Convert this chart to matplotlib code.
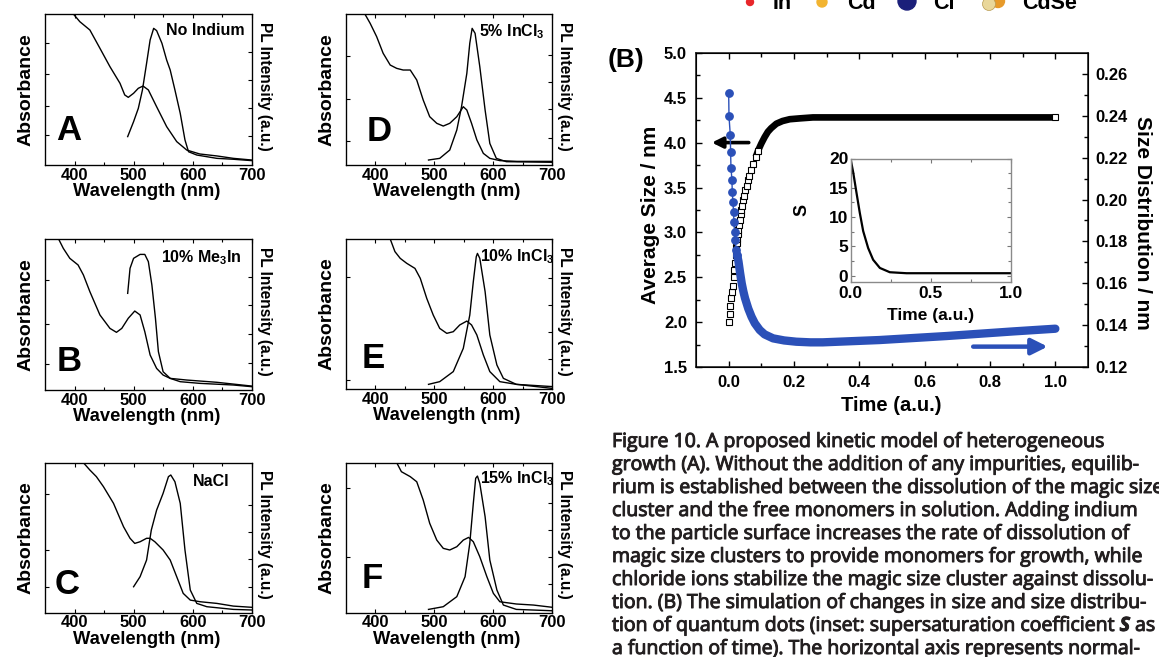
import matplotlib
matplotlib.use('Agg')
import matplotlib.pyplot as plt
import matplotlib.patheffects as pe
from matplotlib.patches import Circle

plt.rcParams['font.family'] = ['Liberation Sans', 'DejaVu Sans']
plt.rcParams['font.weight'] = 'bold'
plt.rcParams['mathtext.fontset'] = 'custom'
plt.rcParams['mathtext.rm'] = 'Liberation Sans:bold'
plt.rcParams['mathtext.it'] = 'Open Sans:italic'

W, H = 1159, 657

# ---------------- spectra, panels A-F (wavelength in nm, normalised height) ----------------
wl_ticks = [400, 500, 600, 700]

abs_a_nm = [398, 409, 426, 443, 460, 477, 485, 491, 500, 508, 516, 525, 539, 556, 573, 590, 612, 641, 669, 700]
abs_a = [1.0, 0.949, 0.894, 0.773, 0.651, 0.541, 0.464, 0.448, 0.475, 0.508, 0.523, 0.497, 0.386, 0.254,
         0.155, 0.099, 0.073, 0.060, 0.044, 0.033]
pl_a_nm = [490, 500, 508, 515, 522, 528, 534, 539, 548, 556, 562, 570, 579, 587, 593, 607, 641, 669, 700]
pl_a = [0.188, 0.287, 0.375, 0.497, 0.673, 0.828, 0.905, 0.890, 0.806, 0.695, 0.629, 0.497, 0.342, 0.166,
        0.088, 0.066, 0.044, 0.038, 0.029]

abs_b_nm = [373, 381, 392, 406, 415, 426, 443, 460, 471, 480, 491, 502, 511, 519, 528, 539, 550, 562, 590, 641, 700]
abs_b = [1.0, 0.938, 0.872, 0.828, 0.762, 0.651, 0.497, 0.408, 0.382, 0.408, 0.475, 0.523, 0.497, 0.386,
         0.232, 0.143, 0.099, 0.077, 0.066, 0.051, 0.026]
pl_b_nm = [490, 494, 500, 511, 519, 525, 531, 537, 542, 550, 562, 579, 612, 669, 700]
pl_b = [0.640, 0.806, 0.872, 0.898, 0.898, 0.850, 0.695, 0.475, 0.254, 0.121, 0.077, 0.055, 0.044, 0.033, 0.022]

abs_c_nm = [415, 426, 437, 449, 466, 483, 494, 502, 511, 522, 528, 536, 550, 562, 573, 584, 596, 613, 641, 669, 700]
abs_c = [1.0, 0.951, 0.907, 0.840, 0.729, 0.573, 0.496, 0.462, 0.473, 0.496, 0.496, 0.473, 0.418, 0.351,
         0.240, 0.129, 0.084, 0.073, 0.062, 0.044, 0.036]
pl_c_nm = [500, 511, 522, 530, 539, 550, 559, 563, 570, 579, 587, 596, 607, 624, 669, 700]
pl_c = [0.173, 0.240, 0.351, 0.551, 0.684, 0.796, 0.907, 0.918, 0.873, 0.729, 0.418, 0.151, 0.062, 0.040,
        0.022, 0.018]

abs_d_nm = [382, 391, 402, 413, 425, 436, 447, 459, 470, 481, 492, 504, 515, 526, 538, 549, 555, 563, 572,
            583, 594, 611, 640, 700]
abs_d = [1.0, 0.938, 0.850, 0.740, 0.662, 0.640, 0.629, 0.629, 0.563, 0.430, 0.320, 0.276, 0.258, 0.276,
         0.320, 0.386, 0.364, 0.276, 0.166, 0.077, 0.044, 0.029, 0.024, 0.024]
pl_d_nm = [490, 509, 526, 538, 546, 555, 560, 564, 569, 577, 586, 594, 605, 622, 700]
pl_d = [0.033, 0.044, 0.099, 0.232, 0.386, 0.607, 0.806, 0.905, 0.872, 0.651, 0.364, 0.143, 0.044, 0.022, 0.018]

abs_e_nm = [425, 433, 442, 453, 467, 476, 487, 498, 509, 521, 532, 543, 555, 563, 572, 583, 594, 611, 639, 700]
abs_e = [1.0, 0.916, 0.871, 0.838, 0.804, 0.738, 0.604, 0.493, 0.404, 0.371, 0.382, 0.427, 0.453, 0.427,
         0.360, 0.227, 0.116, 0.049, 0.031, 0.016]
pl_e_nm = [490, 509, 532, 549, 560, 566, 571, 573, 577, 586, 594, 606, 617, 639, 700]
pl_e = [0.031, 0.049, 0.116, 0.271, 0.493, 0.716, 0.882, 0.904, 0.871, 0.649, 0.360, 0.160, 0.071, 0.031, 0.004]

abs_f_nm = [436, 444, 459, 470, 481, 492, 504, 515, 526, 538, 549, 558, 566, 577, 589, 600, 611, 639, 668, 700]
abs_f = [1.0, 0.940, 0.907, 0.873, 0.751, 0.596, 0.484, 0.429, 0.418, 0.440, 0.484, 0.502, 0.473, 0.373,
         0.240, 0.129, 0.073, 0.058, 0.051, 0.036]
pl_f_nm = [490, 515, 538, 552, 560, 566, 570, 573, 577, 586, 594, 606, 617, 639, 700]
pl_f = [0.022, 0.040, 0.107, 0.240, 0.462, 0.729, 0.896, 0.911, 0.862, 0.640, 0.351, 0.151, 0.051, 0.022, 0.013]

panel_tags = ['No Indium', '10% Me$_3$In', 'NaCl', '5% InCl$_3$', '10% InCl$_3$', '15% InCl$_3$']
panel_letters = ['A', 'B', 'C', 'D', 'E', 'F']

# ---------------- panel (B): simulation ----------------
size_t = [0.000, 0.003, 0.005, 0.008, 0.010, 0.013, 0.015, 0.017, 0.019, 0.021, 0.023, 0.025, 0.027,
          0.029, 0.030, 0.032, 0.034, 0.037, 0.039, 0.041, 0.044, 0.047, 0.051, 0.055, 0.059, 0.063,
          0.069, 0.075, 0.083, 0.090, 0.100, 0.110, 0.120, 0.130, 0.146, 0.165, 0.187, 0.220, 0.258,
          0.40, 0.60, 0.80, 1.000]
size_v = [2.00, 2.09, 2.18, 2.27, 2.34, 2.41, 2.50, 2.58, 2.66, 2.75, 2.84, 2.88, 2.93, 2.98, 3.03,
          3.08, 3.14, 3.20, 3.25, 3.30, 3.36, 3.41, 3.47, 3.52, 3.58, 3.63, 3.69, 3.76, 3.84, 3.91,
          3.99, 4.06, 4.12, 4.16, 4.21, 4.24, 4.26, 4.27, 4.28, 4.28, 4.28, 4.28, 4.28]

dist_t = [0.000, 0.001, 0.005, 0.006, 0.007, 0.010, 0.011, 0.013, 0.015, 0.016, 0.018, 0.020, 0.023,
          0.026, 0.030, 0.035, 0.040, 0.045, 0.050, 0.060, 0.070, 0.080, 0.095, 0.110, 0.136, 0.170,
          0.207, 0.250, 0.288, 0.462, 0.666, 0.870, 1.000]
dist_v = [0.2510, 0.2397, 0.2306, 0.2227, 0.2151, 0.2095, 0.2037, 0.1989, 0.1941, 0.1894, 0.1846,
          0.1806, 0.1759, 0.1735, 0.1705, 0.1650, 0.1600, 0.1562, 0.1530, 0.1480, 0.1441, 0.1410,
          0.1378, 0.1357, 0.1338, 0.1328, 0.1322, 0.1319, 0.1319, 0.1330, 0.1349, 0.1371, 0.1384]

s_t = [0.0, 0.017, 0.037, 0.058, 0.079, 0.110, 0.141, 0.183, 0.245, 0.349, 0.5, 0.75, 1.0]
s_v = [20.0, 17.6, 14.2, 10.7, 7.6, 4.7, 2.7, 1.3, 0.57, 0.4, 0.4, 0.4, 0.4]

caption = [
    'Figure 10. A proposed kinetic model of heterogeneous',
    'growth (A). Without the addition of any impurities, equilib-',
    'rium is established between the dissolution of the magic size',
    'cluster and the free monomers in solution. Adding indium',
    'to the particle surface increases the rate of dissolution of',
    'magic size clusters to provide monomers for growth, while',
    'chloride ions stabilize the magic size cluster against dissolu-',
    'tion. (B) The simulation of changes in size and size distribu-',
    'tion of quantum dots (inset: supersaturation coefficient $\\it{S}$ as',
    'a function of time). The horizontal axis represents normal-',
]

legend_items = ['In', 'Cd', 'Cl', 'CdSe']


def px_rect(x0, y0, x1, y1):
    return [x0 / W, 1 - y1 / H, (x1 - x0) / W, (y1 - y0) / H]


fig = plt.figure(figsize=(W / 100, H / 100), dpi=100)

# overlay in pixel units for the caption and the cropped legend row
ax0 = fig.add_axes([0, 0, 1, 1], zorder=0)
ax0.set_xlim(0, W)
ax0.set_ylim(H, 0)
ax0.axis('off')

cap_color = '#231f20'
cap_texts = []
for i, line in enumerate(caption):
    t = ax0.text(612, 442 + i * 23.0, line, va='center', ha='left', fontsize=13,
                 family='Open Sans', weight='normal', color=cap_color)
    # slight stroke to get the semibold look of the journal caption
    t.set_path_effects([pe.withStroke(linewidth=0.7, foreground=cap_color)])
    cap_texts.append(t)
# the "chloride ions ..." line spans about 538 px in the reference
fig.canvas.draw()
w0 = cap_texts[6].get_window_extent(fig.canvas.get_renderer()).width
for t in cap_texts:
    t.set_fontsize(13 * 538 / w0)

leg_x = [773, 847, 933, 1022]
for x, name in zip(leg_x, legend_items):
    ax0.text(x, 9, name, fontsize=15.5, va='baseline', ha='left', color='k')
ax0.add_patch(Circle((750, 2), 3.5, color='#e8262a'))
ax0.add_patch(Circle((822, 2), 5, color='#f2b431'))
ax0.add_patch(Circle((907, 1), 9, color='#1b1f7a'))
ax0.add_patch(Circle((998, 1), 6.5, color='#e79a2a'))
ax0.add_patch(Circle((989, 4), 6.5, color='#e9d79a', ec='#b89a50', lw=0.5))
ax0.text(608, 60, '(B)', fontsize=19, va='center', ha='left')

# ---------------- small spectra panels ----------------
rects = [(45, 14, 251.7, 165), (45, 239, 251.7, 390), (45, 462.7, 251.7, 612.7),
         (346, 14, 552.3, 165), (346, 239, 552.3, 389), (346, 462.7, 552.3, 612.7)]
letter_pos = [(0.056, 0.23), (0.057, 0.19), (0.048, 0.185), (0.10, 0.22), (0.076, 0.20), (0.076, 0.225)]
tag_pos = [(0.968, 0.89, 'right'), (0.952, 0.875, 'right'), (0.806, 0.873, 'center'),
           (0.965, 0.883, 'right'), (0.65, 0.882, 'left'), (0.65, 0.896, 'left')]
left_ticks = [[0.2, 0.39, 0.6, 0.81], [0.17, 0.44, 0.73], [0.17, 0.42, 0.79],
              [0.16, 0.44, 0.72], [0.06, 0.75], [0.37, 0.83]]
right_ticks = [[0.19, 0.375, 0.56, 0.75], [0.18, 0.37, 0.56, 0.75], [0.17, 0.36, 0.54, 0.72],
               [0.18, 0.37, 0.55, 0.73], [0.2, 0.38, 0.56, 0.74], [0.19, 0.37, 0.55, 0.73]]
spectra = [(abs_a_nm, abs_a, pl_a_nm, pl_a), (abs_b_nm, abs_b, pl_b_nm, pl_b),
           (abs_c_nm, abs_c, pl_c_nm, pl_c), (abs_d_nm, abs_d, pl_d_nm, pl_d),
           (abs_e_nm, abs_e, pl_e_nm, pl_e), (abs_f_nm, abs_f, pl_f_nm, pl_f)]

for i, (anm, av, pnm, pv) in enumerate(spectra):
    ax = fig.add_axes(px_rect(*rects[i]))
    ax.plot(anm, av, color='k', lw=1.0)
    ax.set_xlim(350, 700)
    ax.set_ylim(0, 1)
    ax.set_xticks(wl_ticks)
    ax.set_xticks([450, 550, 650], minor=True)
    ax.set_yticks(left_ticks[i])
    ax.set_yticklabels([])
    ax.tick_params(direction='in', top=True, labelsize=12, pad=2, length=3, width=0.8)
    ax.tick_params(which='minor', direction='in', top=True, length=2, width=0.8)
    for sp in ax.spines.values():
        sp.set_linewidth(0.9)
    ax2 = ax.twinx()
    ax2.plot(pnm, pv, color='k', lw=1.0)
    ax2.set_ylim(0, 1)
    ax2.set_yticks(right_ticks[i])
    ax2.set_yticklabels([])
    ax2.tick_params(direction='in', length=3, width=0.8)

    lx, ly = letter_pos[i]
    ax.text(lx, ly, panel_letters[i], transform=ax.transAxes, fontsize=25, ha='left', va='center')
    tx, ty, tha = tag_pos[i]
    ax.text(tx, ty, panel_tags[i], transform=ax.transAxes, fontsize=11.5, ha=tha, va='center')
    ax.text(-0.092, 0.5, 'Absorbance', transform=ax.transAxes, rotation=90, fontsize=14,
            ha='center', va='center')
    ax.text(1.06, 0.52, 'PL Intensity (a.u.)', transform=ax.transAxes, rotation=270, fontsize=11.2,
            ha='center', va='center')
    ax.text(0.49, -0.177, 'Wavelength (nm)', transform=ax.transAxes, fontsize=13.2,
            ha='center', va='center')

# ---------------- panel (B) ----------------
blue = '#2b50b8'
axb = fig.add_axes(px_rect(696, 52.7, 1088, 367.3), zorder=2)
axb.set_xlim(-0.1, 1.1)
axb.set_ylim(1.5, 5.0)

# open squares on the rising part, dense band once the markers overlap
n_sq = 30
axb.plot(size_t[n_sq - 2:], size_v[n_sq - 2:], color='k', lw=4.8, solid_capstyle='butt', zorder=2)
axb.plot(size_t[:n_sq], size_v[:n_sq], ls='none', marker='s', ms=4.7, mfc='white', mec='k', mew=0.8, zorder=3)
axb.plot(size_t[-1:], size_v[-1:], ls='none', marker='s', ms=4.7, mfc='white', mec='k', mew=0.8, zorder=3)

axb.set_xticks([0.0, 0.2, 0.4, 0.6, 0.8, 1.0])
axb.set_xticklabels(['0.0', '0.2', '0.4', '0.6', '0.8', '1.0'])
axb.set_xticks([0.1, 0.3, 0.5, 0.7, 0.9], minor=True)
axb.set_yticks([1.5, 2.0, 2.5, 3.0, 3.5, 4.0, 4.5, 5.0])
axb.set_yticklabels(['1.5', '2.0', '2.5', '3.0', '3.5', '4.0', '4.5', '5.0'])
axb.set_yticks([1.75, 2.25, 2.75, 3.25, 3.75, 4.25, 4.75], minor=True)
axb.tick_params(axis='x', direction='in', top=True, labelsize=12, pad=5.5, length=4, width=1)
axb.tick_params(axis='y', direction='in', labelsize=12, pad=6.5, length=4, width=1)
axb.tick_params(which='minor', direction='in', top=True, length=3, width=1)
for sp in axb.spines.values():
    sp.set_linewidth(1.2)
    sp.set_color('#222222')

axb.annotate('', xy=(-0.06, 4.0), xytext=(0.07, 4.0),
             arrowprops=dict(arrowstyle='-|>', color='k', lw=2.6, mutation_scale=16))
axb.annotate('', xy=(0.985, 1.73), xytext=(0.74, 1.73),
             arrowprops=dict(arrowstyle='-|>', color=blue, lw=3.2, mutation_scale=24))

axr = axb.twinx()
axr.set_ylim(0.12, 0.27)
n_dot = 13
axr.plot(dist_t[:n_dot + 1], dist_v[:n_dot + 1], color=blue, lw=1.0, marker='o', ms=5.3, mfc=blue, mec=blue)
axr.plot(dist_t[n_dot:], dist_v[n_dot:], color=blue, lw=6.0, solid_capstyle='round', solid_joinstyle='round')
axr.set_yticks([0.12, 0.14, 0.16, 0.18, 0.20, 0.22, 0.24, 0.26])
axr.set_yticklabels(['0.12', '0.14', '0.16', '0.18', '0.20', '0.22', '0.24', '0.26'])
axr.set_yticks([0.13, 0.15, 0.17, 0.19, 0.21, 0.23, 0.25], minor=True)
axr.tick_params(axis='y', direction='in', labelsize=12, pad=5, length=4, width=1)
axr.tick_params(which='minor', direction='in', length=3, width=1)

axb.text(-0.117, 0.484, 'Average Size / nm', transform=axb.transAxes, rotation=90,
         fontsize=15, ha='center', va='center')
axb.text(1.138, 0.46, 'Size Distribution / nm', transform=axb.transAxes, rotation=270,
         fontsize=15, ha='center', va='center')
axb.text(0.497, -0.123, 'Time (a.u.)', transform=axb.transAxes, fontsize=14.5,
         ha='center', va='center')

# inset: supersaturation coefficient
axi = fig.add_axes(px_rect(850.5, 158.5, 1011, 282), zorder=5)
axi.plot(s_t, s_v, color='k', lw=1.6)
axi.set_xlim(0, 1)
axi.set_ylim(-1.1, 20)
axi.set_xticks([0.0, 0.5, 1.0])
axi.set_xticklabels(['0.0', '0.5', '1.0'])
axi.set_xticks([0.25, 0.75], minor=True)
axi.set_yticks([0, 5, 10, 15, 20])
axi.set_yticks([2.5, 7.5, 12.5, 17.5], minor=True)
axi.tick_params(direction='in', top=True, right=True, labelsize=12.5, pad=3, length=3,
                width=0.8, color='#777777')
axi.tick_params(axis='y', pad=1.5)
axi.tick_params(which='minor', direction='in', top=True, right=True, length=2, width=0.8, color='#777777')
for sp in axi.spines.values():
    sp.set_color('#8a8a8a')
    sp.set_linewidth(1.0)
axi.text(-0.30, 0.58, 'S', transform=axi.transAxes, rotation=90, fontsize=13, ha='center', va='center')
axi.text(0.5, -0.27, 'Time (a.u.)', transform=axi.transAxes, fontsize=12.5, ha='center', va='center')

fig.savefig('out.png', dpi=100)
